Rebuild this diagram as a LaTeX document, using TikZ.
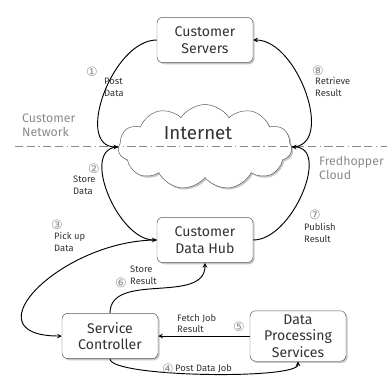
\documentclass[tikz,border=0pt]{standalone}
\usepackage{fontspec}
\setmainfont{Fira Sans}
\newfontfamily\circfont{DejaVu Sans}
\usetikzlibrary{shapes.symbols, shadows, positioning}

\definecolor{boxline}{HTML}{555555}
\definecolor{textgray}{HTML}{333333}
\definecolor{zonegray}{HTML}{8A8A8A}

\tikzset{
    sysbox/.style={draw=boxline, fill=white, rounded corners=5pt,
        drop shadow={opacity=0.45, shadow xshift=1.4pt, shadow yshift=-1.4pt},
        minimum width=2.88cm, minimum height=1.36cm, align=center,
        text=textgray, font=\fontsize{12}{14}\selectfont},
    flow/.style={->, >=stealth, thick, black},
    steplbl/.style={align=left, text=textgray, inner sep=0pt,
        font=\fontsize{8}{10}\selectfont},
    numlbl/.style={text=zonegray, inner sep=0pt, font=\circfont\fontsize{11}{12}\selectfont},
    zonelbl/.style={align=left, text=zonegray, inner sep=0pt, anchor=west,
        font=\fontsize{10.5}{12}\selectfont}
}

\begin{document}
\begin{tikzpicture}[x=0.03cm, y=-0.03cm]
    \useasboundingbox (0,0) rectangle (387,381);

    \node[sysbox] (servers) at (205,40) {Customer\\Servers};
    \node[cloud, cloud puffs=11, cloud puff arc=115, cloud ignores aspect,
        draw=boxline, fill=white, inner sep=0pt,
        drop shadow={opacity=0.45, shadow xshift=1.4pt, shadow yshift=-1.4pt},
        minimum width=5.2cm, minimum height=2.55cm] (internet) at (205,147) {};
    \node[text=textgray, font=\fontsize{16}{18}\selectfont] (inettxt) at (198,133) {Internet};
    \node[sysbox] (hub) at (205,240) {Customer\\Data Hub};
    \node[sysbox] (ctrl) at (110,336) {Service\\Controller};
    \node[sysbox] (dps) at (298,336) {Data\\Processing\\Services};

    % zone border
    \coordinate (zl) at (15,146);
    \coordinate (zr) at (387,146);
    \draw[zonegray, line width=0.8pt,
        dash pattern=on 7pt off 3pt on 7pt off 3pt on 1pt off 3pt] (zl) -- (zr);
    \node[zonelbl] (custnet) at (22,125) {Customer\\Network};
    \node[zonelbl] (fhcloud) at (319,168) {Fredhopper\\Cloud};

    % data flow
    \draw[flow] (servers.west) to[out=180, in=180] (internet.west);
    \draw[flow] (internet.west) to[out=180, in=180] (hub.west);
    \draw[flow] (hub.west) to[out=180, in=180, looseness=1.8] (ctrl.west);
    \draw[flow] (ctrl.south) to[out=-90, in=-90, looseness=0.25] (dps.south);
    \draw[flow] (dps.west) -- (ctrl.east);
    \draw[flow] (ctrl.north) to[out=90, in=-90] (hub.south);
    \draw[flow] (hub.east) to[out=0, in=0] (internet.east);
    \draw[flow] (internet.east) to[out=0, in=0] (servers.east);

    % step labels
    \node[numlbl] (n1) at (92,72) {①};
    \node[steplbl, anchor=north west] (s1) at (104,78) {Post\\Data};
    \node[numlbl] (n2) at (94,169) {②};
    \node[steplbl, anchor=north west] (s2) at (73,176) {Store\\Data};
    \node[numlbl] (n3) at (57,225) {③};
    \node[steplbl, anchor=north west] (s3) at (54,232) {Pick up\\Data};
    \node[numlbl] (n4) at (168,369) {④};
    \node[steplbl, anchor=west] (s4) at (175,369) {Post Data Job};
    \node[numlbl] (n5) at (239,327) {⑤};
    \node[steplbl, anchor=north west] (s5) at (177,314) {Fetch Job\\Result};
    \node[numlbl] (n6) at (121,283) {⑥};
    \node[steplbl, anchor=north west] (s6) at (130,266) {Store\\Result};
    \node[numlbl] (n7) at (315,215) {⑦};
    \node[steplbl, anchor=north west] (s7) at (304,223) {Publish\\Result};
    \node[numlbl] (n8) at (318,71) {⑧};
    \node[steplbl, anchor=north west] (s8) at (315,77) {Retrieve\\Result};
\end{tikzpicture}
\end{document}
